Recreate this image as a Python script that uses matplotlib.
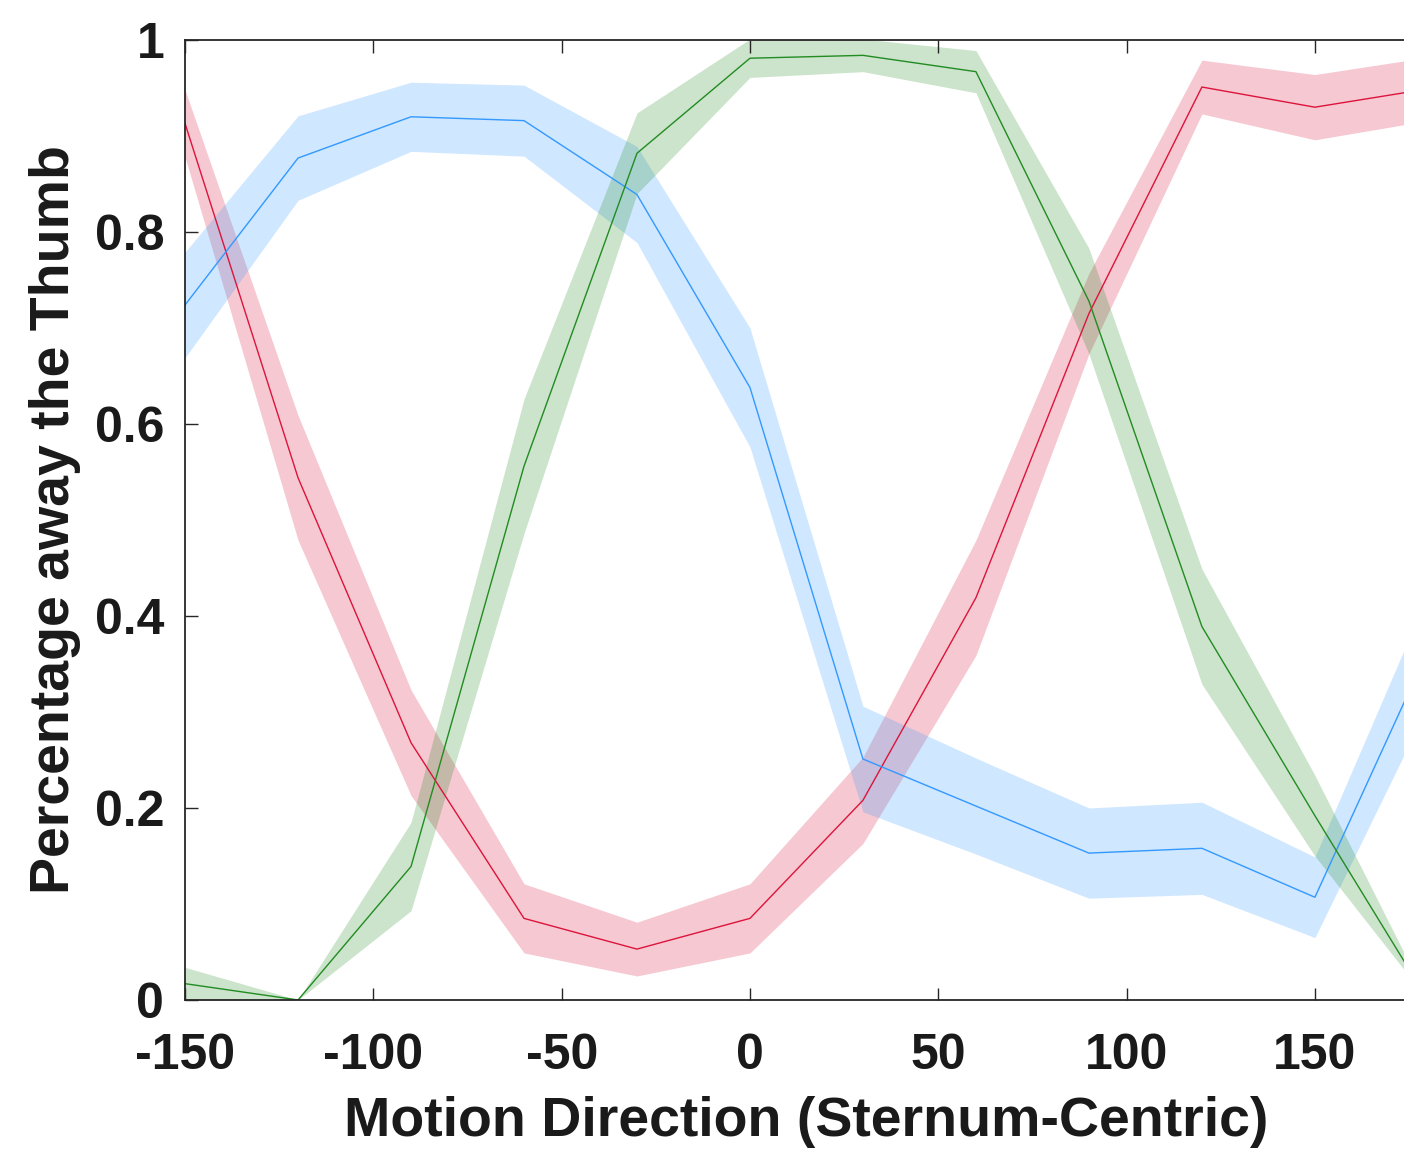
import matplotlib

matplotlib.use("Agg")
import matplotlib.pyplot as plt
import numpy as np

# motion direction bins (deg)
directions = [-150, -120, -90, -60, -30, 0, 30, 60, 90, 120, 150, 180]

# mean proportion per condition
red_mean = [0.913, 0.544, 0.268, 0.085, 0.053, 0.085, 0.208, 0.419, 0.715, 0.951, 0.930, 0.949]
red_err = [0.035, 0.065, 0.055, 0.036, 0.028, 0.036, 0.045, 0.060, 0.042, 0.028, 0.034, 0.033]

blue_mean = [0.724, 0.877, 0.920, 0.916, 0.839, 0.638, 0.251, 0.202, 0.153, 0.158, 0.107, 0.364]
blue_err = [0.055, 0.044, 0.036, 0.037, 0.050, 0.062, 0.055, 0.050, 0.047, 0.048, 0.042, 0.058]

green_mean = [0.017, 0.0, 0.139, 0.556, 0.882, 0.981, 0.984, 0.967, 0.728, 0.389, 0.192, 0.0]
green_err = [0.017, 0.0, 0.046, 0.070, 0.042, 0.020, 0.017, 0.022, 0.055, 0.060, 0.042, 0.0]

SERIES = [
    (red_mean, red_err, "#dc143c"),
    (blue_mean, blue_err, "#3399ff"),
    (green_mean, green_err, "#228b22"),
]

plt.rcParams["font.family"] = ["Liberation Sans", "DejaVu Sans"]
plt.rcParams["font.weight"] = "bold"
plt.rcParams["axes.unicode_minus"] = False

fig = plt.figure(figsize=(14.04, 11.49), dpi=100)
fig.patch.set_facecolor("white")
ax = fig.add_axes([0.1318, 0.1297, 1.017 - 0.1318, 0.8355])

x = np.array(directions)
for mean, err, color in SERIES:
    m = np.array(mean)
    e = np.array(err)
    ax.fill_between(x, m - e, m + e, color=color, alpha=0.23, linewidth=0)
for mean, err, color in SERIES:
    ax.plot(x, mean, color=color, linewidth=1.0)

ax.set_xlim(-150, 180)
ax.set_ylim(0, 1)
ax.set_xticks([-150, -100, -50, 0, 50, 100, 150])
ax.set_yticks([0, 0.2, 0.4, 0.6, 0.8, 1.0])
ax.set_yticklabels(["0", "0.2", "0.4", "0.6", "0.8", "1"])

ax.tick_params(axis="both", direction="in", length=9, width=1.0,
               colors="#262626", labelcolor="#1a1a1a", labelsize=36)
ax.tick_params(axis="x", top=True, pad=24)
ax.tick_params(axis="y", pad=15)
for lab in ax.get_xticklabels() + ax.get_yticklabels():
    lab.set_fontweight("bold")

for side in ("top", "left", "bottom"):
    ax.spines[side].set_linewidth(1.3)
    ax.spines[side].set_color("#262626")
ax.spines["right"].set_visible(False)

ax.set_xlabel("Motion Direction (Sternum-Centric)", fontsize=40,
              fontweight="bold", color="#1a1a1a", labelpad=12)
ax.set_ylabel("Percentage away the Thumb", fontsize=40,
              fontweight="bold", color="#1a1a1a", labelpad=10)

fig.savefig("out.png", dpi=100)
